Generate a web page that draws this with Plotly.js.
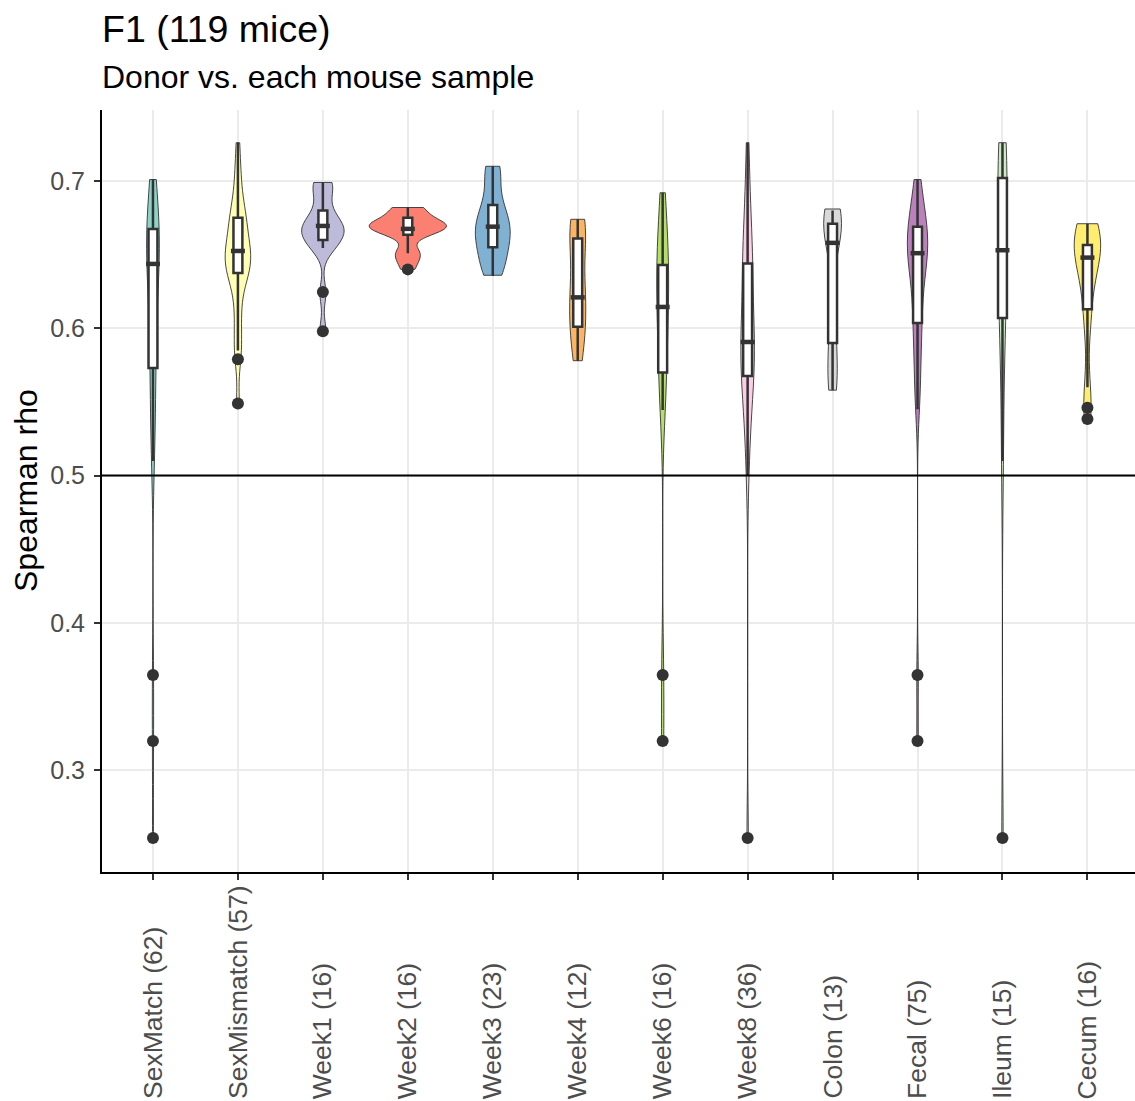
<!DOCTYPE html>
<html>
<head>
<meta charset="utf-8">
<script src="https://cdn.plot.ly/plotly-3.0.1.min.js"></script>
<style>
  html, body { margin: 0; padding: 0; background: #ffffff; overflow: hidden; }
  #chart { width: 1135px; height: 1101px; }
</style>
</head>
<body>
<div id="chart"></div>
<script>
// ---------- DATA ----------
const categories = ["SexMatch", "SexMismatch", "Week1", "Week2", "Week3", "Week4",
                    "Week6", "Week8", "Colon", "Fecal", "Ileum", "Cecum"];
const tickLabels = ["SexMatch (62)", "SexMismatch (57)", "Week1 (16)", "Week2 (16)",
                    "Week3 (23)", "Week4 (12)", "Week6 (16)", "Week8 (36)",
                    "Colon (13)", "Fecal (75)", "Ileum (15)", "Cecum (16)"];

// Box statistics
const boxQ1     = [0.573, 0.6375, 0.660, 0.6635, 0.655, 0.601, 0.570, 0.5676, 0.590, 0.6036, 0.607, 0.613];
const boxMedian = [0.6437, 0.6525, 0.6695, 0.6675, 0.669, 0.621, 0.6145, 0.5907, 0.658, 0.651, 0.653, 0.648];
const boxQ3     = [0.6674, 0.675, 0.680, 0.675, 0.6837, 0.661, 0.643, 0.644, 0.671, 0.669, 0.702, 0.6566];
const boxLower  = [0.510, 0.585, 0.6545, 0.651, 0.6355, 0.578, 0.5445, 0.500, 0.558, 0.545, 0.510, 0.560];
const boxUpper  = [0.701, 0.726, 0.699, 0.682, 0.710, 0.674, 0.692, 0.726, 0.680, 0.701, 0.726, 0.671];

// Outlier points
const outlierX = ["SexMatch", "SexMatch", "SexMatch", "SexMismatch", "SexMismatch",
                  "Week1", "Week1", "Week2", "Week6", "Week6", "Week8",
                  "Fecal", "Fecal", "Ileum", "Cecum", "Cecum"];
const outlierY = [0.3646, 0.3198, 0.254, 0.579, 0.549,
                  0.6246, 0.598, 0.640, 0.3646, 0.3198, 0.254,
                  0.3646, 0.3198, 0.254, 0.546, 0.5385];

// Estimated samples shaping each violin
const sexMatch = [0.701, 0.695, 0.688, 0.680, 0.675, 0.670, 0.668, 0.666, 0.664, 0.660, 0.655,
                  0.650, 0.645, 0.644, 0.640, 0.635, 0.628, 0.620, 0.610, 0.600, 0.590, 0.580,
                  0.572, 0.560, 0.550, 0.535, 0.520, 0.510, 0.364, 0.319, 0.253];
const sexMismatch = [0.726, 0.710, 0.700, 0.690, 0.683, 0.678, 0.675, 0.672, 0.668, 0.664, 0.660,
                     0.656, 0.654, 0.652, 0.650, 0.648, 0.645, 0.642, 0.640, 0.638, 0.636, 0.632,
                     0.625, 0.615, 0.605, 0.595, 0.585, 0.579, 0.549];
const week1 = [0.699, 0.698, 0.695, 0.685, 0.678, 0.672, 0.670, 0.669, 0.668, 0.665, 0.662,
               0.660, 0.656, 0.654, 0.624, 0.598];
const week2 = [0.682, 0.681, 0.680, 0.674, 0.672, 0.671, 0.670, 0.670, 0.669, 0.668, 0.667,
               0.665, 0.663, 0.652, 0.651, 0.646, 0.640];
const week3 = [0.710, 0.709, 0.707, 0.700, 0.690, 0.684, 0.682, 0.678, 0.674, 0.671, 0.669,
               0.668, 0.666, 0.663, 0.660, 0.657, 0.655, 0.652, 0.648, 0.644, 0.640, 0.637, 0.636];
const week4 = [0.674, 0.672, 0.668, 0.661, 0.650, 0.630, 0.622, 0.620, 0.605, 0.600, 0.590, 0.578];
const week6 = [0.692, 0.675, 0.660, 0.650, 0.645, 0.640, 0.625, 0.615, 0.614, 0.600, 0.585,
               0.570, 0.560, 0.545, 0.364, 0.319];
const week8 = [0.726, 0.700, 0.685, 0.670, 0.660, 0.650, 0.645, 0.643, 0.635, 0.625, 0.615,
               0.605, 0.598, 0.592, 0.590, 0.588, 0.580, 0.575, 0.570, 0.567, 0.560, 0.550,
               0.540, 0.525, 0.500, 0.253];
const colon = [0.681, 0.680, 0.678, 0.675, 0.672, 0.668, 0.664, 0.658, 0.650, 0.620, 0.600,
               0.590, 0.580, 0.570, 0.560, 0.558];
const fecal = [0.701, 0.695, 0.688, 0.682, 0.676, 0.672, 0.670, 0.668, 0.665, 0.662, 0.660,
               0.657, 0.655, 0.652, 0.651, 0.650, 0.648, 0.645, 0.640, 0.635, 0.628, 0.620,
               0.612, 0.605, 0.603, 0.595, 0.585, 0.575, 0.565, 0.556, 0.545, 0.364, 0.319];
const ileum = [0.726, 0.724, 0.715, 0.705, 0.700, 0.685, 0.665, 0.653, 0.640, 0.625, 0.610,
               0.605, 0.560, 0.510, 0.253];
const cecum = [0.671, 0.670, 0.668, 0.665, 0.660, 0.657, 0.655, 0.650, 0.648, 0.645, 0.640,
               0.625, 0.613, 0.600, 0.560, 0.546, 0.538];

const groupSamples = [sexMatch, sexMismatch, week1, week2, week3, week4,
                      week6, week8, colon, fecal, ileum, cecum];

// ---------- STYLE ----------
const fillColors = ["#8DD3C7", "#FFFFB3", "#BEBADA", "#FB8072", "#80B1D3", "#FDB462",
                    "#B3DE69", "#FCCDE5", "#D9D9D9", "#BC80BD", "#CCEBC5", "#FFED6F"];
const violinWidthStyle = [0.15, 0.30, 0.50, 0.91, 0.41, 0.19, 0.14, 0.16, 0.21, 0.24, 0.11, 0.31];
const bandwidthStyle   = [0.028, 0.011, 0.0077, 0.0047, 0.0103, 0.018, 0.028, 0.025, 0.015, 0.0185, 0.037, 0.0168];

const FONT = "Liberation Sans, Arial, Helvetica, sans-serif";
const DARK = "#333333";

const traces = [];
categories.forEach((cat, i) => {
  traces.push({
    type: "violin",
    x0: cat,
    y: groupSamples[i],
    name: cat,
    fillcolor: fillColors[i],
    line: { color: DARK, width: 0.9 },
    opacity: 1,
    points: false,
    box: { visible: false },
    meanline: { visible: false },
    spanmode: "hard",
    scalemode: "width",
    width: violinWidthStyle[i],
    bandwidth: bandwidthStyle[i],
    hoverinfo: "skip",
    showlegend: false
  });
});

traces.push({
  type: "box",
  x: categories,
  q1: boxQ1,
  median: boxMedian,
  q3: boxQ3,
  lowerfence: boxLower,
  upperfence: boxUpper,
  boxpoints: false,
  width: 0.105,
  whiskerwidth: 0,
  fillcolor: "#ffffff",
  line: { color: DARK, width: 2.5 },
  hoverinfo: "skip",
  showlegend: false
});

// thicker median bars
traces.push({
  type: "scatter",
  mode: "markers",
  x: categories,
  y: boxMedian,
  marker: { symbol: "line-ew", size: 10, line: { color: DARK, width: 4.5 } },
  hoverinfo: "skip",
  showlegend: false
});

traces.push({
  type: "scatter",
  mode: "markers",
  x: outlierX,
  y: outlierY,
  marker: { color: DARK, size: 12, line: { width: 0 } },
  hoverinfo: "skip",
  showlegend: false
});

const annotations = [
  { text: "F1 (119 mice)", xref: "paper", yref: "paper", x: 0, y: 1.106, xshift: -2,
    xanchor: "left", yanchor: "middle", showarrow: false,
    font: { family: FONT, size: 37.5, color: "#000000" } },
  { text: "Donor vs. each mouse sample", xref: "paper", yref: "paper", x: 0, y: 1.0433, xshift: -2,
    xanchor: "left", yanchor: "middle", showarrow: false,
    font: { family: FONT, size: 32, color: "#000000" } },
  { text: "Spearman rho", xref: "paper", yref: "paper", x: -0.0736, y: 0.5013,
    xanchor: "center", yanchor: "middle", textangle: -90, showarrow: false,
    font: { family: FONT, size: 32, color: "#000000" } }
];
categories.forEach((cat, i) => {
  annotations.push({
    text: tickLabels[i], xref: "x", yref: "paper", x: cat, y: -0.3005,
    xanchor: "center", yanchor: "bottom", textangle: -90, showarrow: false,
    font: { family: FONT, size: 26.5, color: "#4D4D4D" }
  });
});

const layout = {
  width: 1135,
  height: 1101,
  margin: { l: 102, r: 0, t: 110, b: 229, pad: 0 },
  paper_bgcolor: "#ffffff",
  plot_bgcolor: "#ffffff",
  font: { family: FONT, color: "#000000" },
  violinmode: "overlay",
  boxmode: "overlay",
  showlegend: false,
  xaxis: {
    type: "category",
    categoryorder: "array",
    categoryarray: categories,
    range: [-0.6, 11.56],
    showticklabels: false,
    ticks: "outside",
    ticklen: 6,
    tickwidth: 2,
    tickcolor: DARK,
    showgrid: true,
    gridcolor: "#EBEBEB",
    gridwidth: 2,
    showline: true,
    linecolor: "#000000",
    linewidth: 2,
    zeroline: false,
    fixedrange: true
  },
  yaxis: {
    range: [0.2309, 0.7482],
    tickvals: [0.3, 0.4, 0.5, 0.6, 0.7],
    ticktext: ["0.3", "0.4", "0.5", "0.6", "0.7"],
    ticks: "outside",
    ticklen: 6,
    tickwidth: 2,
    tickcolor: DARK,
    ticklabelstandoff: 4,
    tickfont: { family: FONT, size: 25, color: "#4D4D4D" },
    showgrid: true,
    gridcolor: "#EBEBEB",
    gridwidth: 2,
    showline: true,
    linecolor: "#000000",
    linewidth: 2,
    zeroline: false,
    fixedrange: true
  },
  shapes: [
    { type: "line", xref: "paper", yref: "y", x0: 0, x1: 1, y0: 0.5, y1: 0.5,
      line: { color: "#000000", width: 2 }, layer: "above" }
  ],
  annotations: annotations
};

Plotly.newPlot("chart", traces, layout, { displayModeBar: false, staticPlot: true });
</script>
</body>
</html>
